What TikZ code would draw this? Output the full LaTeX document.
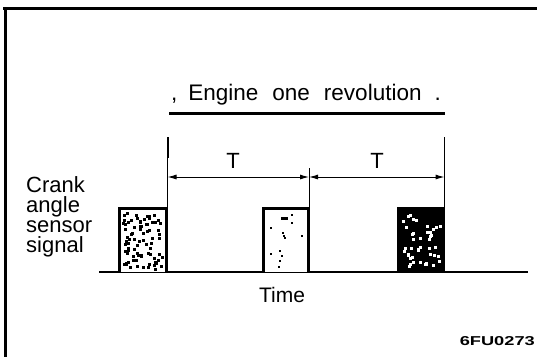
\documentclass[tikz,border=0pt]{standalone}
\usepackage{fontspec}
\usepackage{graphicx}
\setmainfont{Liberation Sans}
\usetikzlibrary{arrows.meta}
\begin{document}
\begin{tikzpicture}[x=1pt,y=-1pt,
  frame/.style={line width=2.7pt},
  pulse/.style={line width=3.5pt, line join=miter},
  tickline/.style={line width=1pt},
  dimline/.style={line width=1pt, {Latex[length=9pt,width=5pt]}-{Latex[length=9pt,width=5pt]}},
  lbl/.style={inner sep=0pt, font=\fontsize{22}{20.5}\selectfont},
]
\useasboundingbox (0,0) rectangle (537,357);
% frame
\draw[frame] (3,8.3) -- (537,8.3);
\draw[frame] (5.3,7) -- (5.3,357);
% time axis
\coordinate (b0) at (99,272);
\coordinate (b1) at (528,272);
\draw[line width=2pt] (b0) -- (b1);
% pulses
\pgfmathsetseed{7}
\draw[pulse, fill=white] (119.7,272) -- (119.7,208.7) -- (166.3,208.7) -- (166.3,272);
\foreach \i in {1,...,80} {
  \pgfmathsetmacro\rx{122+rnd*40}
  \pgfmathsetmacro\ry{211+rnd*57}
  \fill[black] (\rx,\ry) rectangle ++(3,3);
}
\draw[pulse, fill=white] (263.7,272) -- (263.7,208.7) -- (308.3,208.7) -- (308.3,272);
\foreach \i in {1,...,12} {
  \pgfmathsetmacro\rx{267+rnd*37}
  \pgfmathsetmacro\ry{213+rnd*55}
  \fill[black] (\rx,\ry) rectangle ++(2,2);
}
\fill[black] (281,217) rectangle ++(7,3);
\draw[pulse, fill=black] (398.7,272) -- (398.7,208.7) -- (443.3,208.7) -- (443.3,272);
\foreach \i in {1,...,45} {
  \pgfmathsetmacro\rx{402+rnd*37}
  \pgfmathsetmacro\ry{213+rnd*52}
  \fill[white] (\rx,\ry) rectangle ++(3,3);
}
% extension lines
\coordinate (t1a) at (167.5,137); \coordinate (t1b) at (167.5,208);
\coordinate (t2a) at (309,168);   \coordinate (t2b) at (309,208);
\coordinate (t3a) at (444.5,137); \coordinate (t3b) at (444.5,207);
\draw[tickline] (t1a) -- (t1b);
\draw[line width=2pt] (t1a) -- (167.5,158);
\draw[tickline] (t2a) -- (t2b);
\draw[tickline] (t3a) -- (t3b);
% dimension arrows
\coordinate (d1) at (167.5,177);
\coordinate (d2) at (309,177);
\coordinate (d3) at (444.5,177);
\draw[dimline] (d1) -- (d2);
\draw[dimline] (d2) -- (d3);
\node[font=\fontsize{22}{22}\selectfont, anchor=base, inner sep=0pt] (T1) at (233,168) {T};
\node[font=\fontsize{22}{22}\selectfont, anchor=base, inner sep=0pt] (T2) at (377,168) {T};
% engine one revolution
\coordinate (e0) at (169,113);
\coordinate (e1) at (445,113);
\draw[line width=3pt] (e0) -- (e1);
\node[font=\fontsize{22.5}{22}\selectfont, anchor=base, inner sep=0pt] (rev) at (306,100)
  {,\hspace{11pt}Engine\hspace{14pt}one\hspace{14pt}revolution\hspace{13pt}.};
% labels
\node[lbl, anchor=base west] (l1) at (26,192) {Crank};
\node[lbl, anchor=base west] (l2) at (26,212.5) {angle};
\node[lbl, anchor=base west] (l3) at (26,232.5) {sensor};
\node[lbl, anchor=base west] (l4) at (26,252.5) {signal};
\node[font=\fontsize{21}{21}\selectfont, inner sep=0pt, anchor=base] (time) at (282,302) {Time};
\node[anchor=base east, inner sep=0pt] (code) at (535,345) {\resizebox{75pt}{9pt}{\bfseries 6FU0273}};
\end{tikzpicture}
\end{document}
